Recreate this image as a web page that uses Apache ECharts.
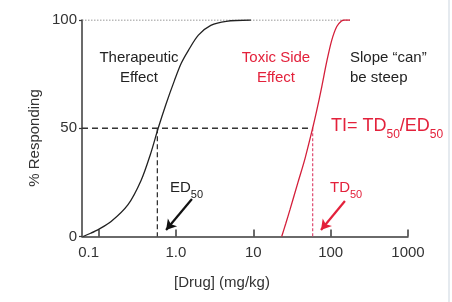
<!DOCTYPE html>
<html>
<head>
<meta charset="utf-8">
<script src="https://cdn.jsdelivr.net/npm/echarts@6/dist/echarts.min.js"></script>
<style>
html,body{margin:0;padding:0;background:#fff;}
#c{width:452px;height:302px;}
</style>
</head>
<body>
<div id="c"></div>
<script>
// ---- data ----
const xTickDoses = [0.1, 1, 10, 100, 1000];
const xTickLabels = ['0.1', '1.0', '10', '100', '1000'];
const yTicks = [0, 50, 100];
const xAxisMinDose = 0.061;

// dose in mg/kg, response in %
const therapeuticDose = [0.063, 0.079, 0.1, 0.145, 0.24, 0.355, 0.468, 0.589, 0.741, 0.955, 1.17, 1.45, 1.95, 2.82, 4.47, 9.3];
const therapeuticResp = [0, 1.5, 3.3, 6.9, 14.7, 26, 38, 50, 61, 72, 80, 86, 93, 97.5, 99.4, 100];

const toxicDose = [23.3, 26.3, 29.8, 37.8, 46.6, 58.5, 65.9, 76.6, 88.7, 103, 120, 138, 151, 178];
const toxicResp = [0, 6, 12.4, 25, 36, 50, 58, 69, 80.5, 90.5, 97, 99.5, 100, 100];

const ED50 = 0.575;
const TD50 = 58.5;

const arrowED = [[1.61, 17.3], [0.745, 3]];
const arrowTD = [[153, 16.4], [75, 3]];

// ---- build ----
const L = Math.log10;
const FONT = '"Liberation Sans", Arial, Helvetica, sans-serif';
const RED = '#e3213b';
const pts = (xs, ys) => xs.map((x, i) => [L(x), ys[i]]);

const chart = echarts.init(document.getElementById('c'), null, {renderer: 'canvas'});
const xmin = L(xAxisMinDose);

chart.setOption({
  animation: false,
  backgroundColor: '#fff',
  grid: {left: 82, right: 44, top: 20, bottom: 65.5},
  xAxis: {
    type: 'value', min: xmin, max: L(1000),
    splitLine: {show: false},
    axisLine: {show: true, onZero: false, lineStyle: {color: '#3a3a3a', width: 1.5}},
    axisTick: {show: true, inside: true, length: 7, customValues: xTickDoses.map(L), lineStyle: {color: '#3a3a3a', width: 1.5}},
    axisLabel: {
      show: true, margin: 9, fontSize: 15, color: '#333', fontFamily: FONT,
      customValues: xTickDoses.map(L),
      formatter: v => {
        let best = 0;
        xTickDoses.forEach((d, i) => { if (Math.abs(L(d) - v) < Math.abs(L(xTickDoses[best]) - v)) best = i; });
        return best === 0 ? '{l|' + xTickLabels[best] + '}' : xTickLabels[best];
      },
      rich: {l: {fontSize: 15, color: '#333', fontFamily: FONT, padding: [0, 20, 0, 0]}}
    }
  },
  yAxis: {
    type: 'value', min: 0, max: 100, interval: 50,
    splitLine: {show: false},
    axisLine: {show: true, onZero: false, lineStyle: {color: '#3a3a3a', width: 1.5}},
    axisTick: {show: true, length: 3, lineStyle: {color: '#3a3a3a', width: 1.2}},
    axisLabel: {margin: 5, fontSize: 15, color: '#333', fontFamily: FONT}
  },
  series: [
    {type: 'line', data: [[xmin, 100], [L(toxicDose[toxicDose.length - 1]), 100]], symbol: 'none',
     lineStyle: {color: '#777', width: 1.2, type: [1.5, 1.5]}, z: 1},
    {type: 'line', data: [[xmin, 50], [L(TD50), 50]], symbol: 'none',
     lineStyle: {color: '#333', width: 1.5, type: [6, 4]}, z: 2},
    {type: 'line', data: [[L(ED50), 50], [L(ED50), 0]], symbol: 'none',
     lineStyle: {color: '#333', width: 1.3, type: [5, 3]}, z: 2},
    {type: 'line', data: [[L(TD50), 50], [L(TD50), 0]], symbol: 'none',
     lineStyle: {color: '#e0557a', width: 1.3, type: [3, 2]}, z: 2},
    {type: 'line', data: pts(therapeuticDose, therapeuticResp), symbol: 'none', smooth: 0.3,
     lineStyle: {color: '#222', width: 1.3}, z: 3,
     markLine: {silent: true, symbol: ['none', 'arrow'], symbolSize: [9, 10], label: {show: false},
       lineStyle: {color: '#111', width: 2.2, type: 'solid'},
       data: [[{coord: [L(arrowED[0][0]), arrowED[0][1]]}, {coord: [L(arrowED[1][0]), arrowED[1][1]]}]]}},
    {type: 'line', data: pts(toxicDose, toxicResp), symbol: 'none', smooth: 0.3,
     lineStyle: {color: '#d41f3a', width: 1.3}, z: 3,
     markLine: {silent: true, symbol: ['none', 'arrow'], symbolSize: [9, 10], label: {show: false},
       lineStyle: {color: RED, width: 2.2, type: 'solid'},
       data: [[{coord: [L(arrowTD[0][0]), arrowTD[0][1]]}, {coord: [L(arrowTD[1][0]), arrowTD[1][1]]}]]}}
  ],
  graphic: [
    {type: 'line', shape: {x1: 449, y1: 0, x2: 449, y2: 302}, style: {stroke: '#dde3ea', lineWidth: 1.5}, silent: true},
    {type: 'text', x: 139, y: 68, style: {text: 'Therapeutic\nEffect', fill: '#222', font: '15px ' + FONT, align: 'center', verticalAlign: 'middle', lineHeight: 20}},
    {type: 'text', x: 276, y: 68, style: {text: 'Toxic Side\nEffect', fill: RED, font: '15px ' + FONT, align: 'center', verticalAlign: 'middle', lineHeight: 20}},
    {type: 'text', x: 350, y: 68, style: {text: 'Slope \u201ccan\u201d\nbe steep', fill: '#222', font: '15px ' + FONT, align: 'left', verticalAlign: 'middle', lineHeight: 20}},
    {type: 'text', x: 331, y: 117, style: {text: '{a|TI= TD}{s|50}{a|/ED}{s|50}', fill: RED, align: 'left', verticalAlign: 'top',
      rich: {a: {fontSize: 18, fontFamily: FONT, fill: RED, lineHeight: 20, verticalAlign: 'top'},
             s: {fontSize: 12, fontFamily: FONT, fill: RED, lineHeight: 12, verticalAlign: 'top', padding: [12, 0, 0, 0]}}}},
    {type: 'text', x: 170, y: 180, style: {text: '{a|ED}{s|50}', fill: '#222', align: 'left', verticalAlign: 'top',
      rich: {a: {fontSize: 15, fontFamily: FONT, fill: '#222', lineHeight: 16, verticalAlign: 'top'},
             s: {fontSize: 11, fontFamily: FONT, fill: '#222', lineHeight: 11, verticalAlign: 'top', padding: [9, 0, 0, 0]}}}},
    {type: 'text', x: 330, y: 180, style: {text: '{a|TD}{s|50}', fill: RED, align: 'left', verticalAlign: 'top',
      rich: {a: {fontSize: 15, fontFamily: FONT, fill: RED, lineHeight: 16, verticalAlign: 'top'},
             s: {fontSize: 11, fontFamily: FONT, fill: RED, lineHeight: 11, verticalAlign: 'top', padding: [9, 0, 0, 0]}}}},
    {type: 'text', x: 35, y: 138, rotation: Math.PI / 2, style: {text: '% Responding', fill: '#333', font: '15px ' + FONT, align: 'center', verticalAlign: 'middle'}},
    {type: 'text', x: 222, y: 283, style: {text: '[Drug] (mg/kg)', fill: '#333', font: '15px ' + FONT, align: 'center', verticalAlign: 'middle'}}
  ]
});
</script>
</body>
</html>
